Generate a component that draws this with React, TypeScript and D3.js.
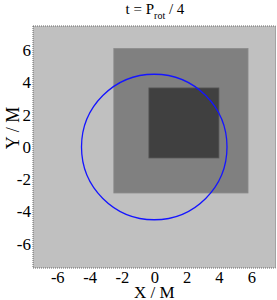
import React, { useEffect, useRef } from "react";
import * as d3 from "d3";

// values (units of M)
const tickValues = [-6, -4, -2, 0, 2, 4, 6];
const xDomain = [-7.5, 7.5];
const yDomain = [-7.5, 7.5];
const outerRect = { x0: -2.5, x1: 5.8, y0: -2.85, y1: 6.1 };
const innerRect = { x0: -0.33, x1: 4.0, y0: -0.68, y1: 3.66 };
const orbitRadius = 4.5;
const orbitCenter = [0, 0];

const W = 277;
const H = 300;
const margin = { left: 33, right: 1.5, top: 26, bottom: 32 };

export default function App() {
  const svgRef = useRef<SVGSVGElement>(null);

  useEffect(() => {
    const svg = d3.select(svgRef.current);
    svg.selectAll("*").remove();

    const x = d3.scaleLinear().domain(xDomain).range([margin.left, W - margin.right]);
    const y = d3.scaleLinear().domain(yDomain).range([H - margin.bottom, margin.top]);
    const font = "'Liberation Serif', 'Times New Roman', serif";
    const fmt = (d: any) => String(d); // plain hyphen minus like the original

    // background
    svg
      .append("rect")
      .attr("x", x(xDomain[0]))
      .attr("y", y(yDomain[1]))
      .attr("width", x(xDomain[1]) - x(xDomain[0]))
      .attr("height", y(yDomain[0]) - y(yDomain[1]))
      .attr("fill", "#c0c0c0");

    const drawRect = (r: any, fill: string, stroke: string) =>
      svg
        .append("rect")
        .attr("x", x(r.x0))
        .attr("y", y(r.y1))
        .attr("width", x(r.x1) - x(r.x0))
        .attr("height", y(r.y0) - y(r.y1))
        .attr("fill", fill)
        .attr("stroke", stroke)
        .attr("stroke-width", 0.8);

    drawRect(outerRect, "#808080", "#8a8a8a");
    drawRect(innerRect, "#404040", "#555555");

    // orbit circle
    svg
      .append("circle")
      .attr("cx", x(orbitCenter[0]))
      .attr("cy", y(orbitCenter[1]))
      .attr("r", x(orbitRadius) - x(0))
      .attr("fill", "none")
      .attr("stroke", "#1515ff")
      .attr("stroke-width", 1.3);

    // frame
    svg
      .append("rect")
      .attr("x", x(xDomain[0]))
      .attr("y", y(yDomain[1]))
      .attr("width", x(xDomain[1]) - x(xDomain[0]))
      .attr("height", y(yDomain[0]) - y(yDomain[1]))
      .attr("fill", "none")
      .attr("stroke", "#666")
      .attr("stroke-width", 1)
      .attr("stroke-dasharray", "1,1");

    // axes (labels only, no tick marks)
    const xAxis = d3.axisBottom(x).tickValues(tickValues).tickFormat(fmt).tickSize(0).tickPadding(3);
    const gx = svg
      .append("g")
      .attr("transform", `translate(0, ${H - margin.bottom})`)
      .call(xAxis);
    gx.select(".domain").remove();
    gx.selectAll("text").attr("font-family", font).attr("font-size", 16.5).attr("fill", "#000");

    const yAxis = d3.axisLeft(y).tickValues(tickValues).tickFormat(fmt).tickSize(0).tickPadding(2);
    const gy = svg.append("g").attr("transform", `translate(${margin.left}, 0)`).call(yAxis);
    gy.select(".domain").remove();
    gy.selectAll("text").attr("font-family", font).attr("font-size", 17).attr("fill", "#000");

    // axis titles
    svg
      .append("text")
      .attr("x", x(0))
      .attr("y", 297.5)
      .attr("text-anchor", "middle")
      .attr("font-family", font)
      .attr("font-size", 17)
      .text("X / M");

    svg
      .append("text")
      .attr("transform", `translate(19, 128) rotate(-90)`)
      .attr("text-anchor", "middle")
      .attr("font-family", font)
      .attr("font-size", 18)
      .text("Y / M");

    // title
    const title = svg
      .append("text")
      .attr("x", 155)
      .attr("y", 14)
      .attr("text-anchor", "middle")
      .attr("font-family", font)
      .attr("font-size", 15);
    title.append("tspan").text("t = P");
    title.append("tspan").attr("font-size", 10).attr("dy", 5).text("rot");
    title.append("tspan").attr("dy", -5).text(" / 4");
  }, []);

  return (
    <div style={{ position: "fixed", left: 0, top: 0 }}>
      <svg ref={svgRef} width={W} height={H} style={{ display: "block", background: "#fff" }} />
    </div>
  );
}
